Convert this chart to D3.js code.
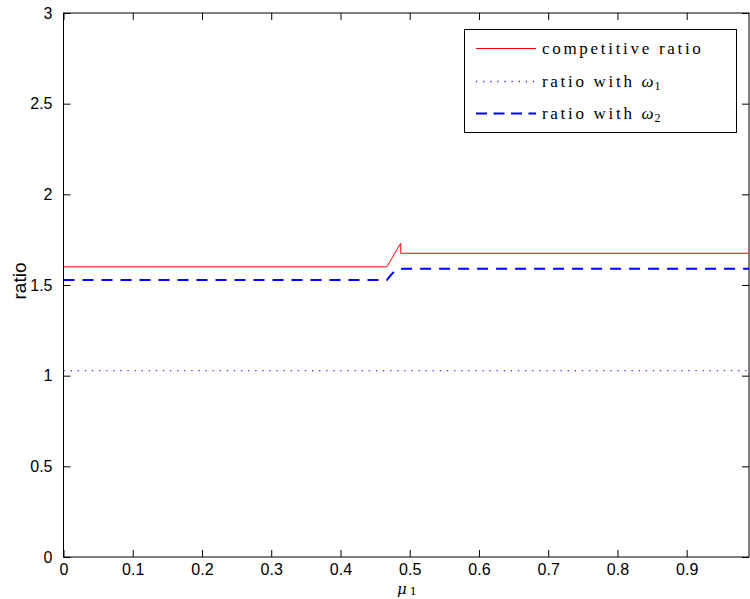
<!DOCTYPE html>
<html>
<head>
<meta charset="utf-8">
<script src="https://cdnjs.cloudflare.com/ajax/libs/d3/7.8.5/d3.min.js"></script>
<style>
  html, body { margin: 0; padding: 0; background: #fff; }
  svg { display: block; }
</style>
</head>
<body>
<svg id="chart" width="750" height="599"></svg>
<script>
// data
const compX = [0, 0.467, 0.487, 0.4871, 0.99];
const compY = [1.6, 1.6, 1.73, 1.675, 1.675];
const w1X = [0, 0.99];
const w1Y = [1.028, 1.028];
const w2X = [0, 0.467, 0.474, 0.478, 0.484, 0.49, 0.99];
const w2Y = [1.528, 1.528, 1.56, 1.575, 1.587, 1.59, 1.59];
const xTicks = [0, 0.1, 0.2, 0.3, 0.4, 0.5, 0.6, 0.7, 0.8, 0.9];
const yTicks = [0, 0.5, 1, 1.5, 2, 2.5, 3];
const legendLabels = ['competitive ratio', 'ratio with ', 'ratio with '];
const legendSubs = ['', '1', '2'];

const svg = d3.select('#chart');
const mLeft = 63.5, mRight = 749, mTop = 13, mBottom = 557;

const x = d3.scaleLinear().domain([0, 0.99]).range([mLeft, mRight]);
const y = d3.scaleLinear().domain([0, 3]).range([mBottom, mTop]);

const tickFont = '"Liberation Sans", Arial, sans-serif';
const tickLen = 7;

// frame
svg.append('rect')
  .attr('x', mLeft).attr('y', mTop)
  .attr('width', mRight - mLeft).attr('height', mBottom - mTop)
  .attr('fill', 'none').attr('stroke', '#000').attr('stroke-width', 1);

// axes (ticks pointing inward, MATLAB style)
const xAxis = svg.append('g')
  .attr('transform', `translate(0,${mBottom})`)
  .call(d3.axisBottom(x).tickValues(xTicks).tickSize(-tickLen).tickPadding(7)
    .tickFormat(d3.format('')));
const xTopAxis = svg.append('g')
  .attr('transform', `translate(0,${mTop})`)
  .call(d3.axisTop(x).tickValues(xTicks).tickSize(-tickLen).tickFormat(''));
const yAxis = svg.append('g')
  .attr('transform', `translate(${mLeft},0)`)
  .call(d3.axisLeft(y).tickValues(yTicks).tickSize(-tickLen).tickPadding(tickLen + 4)
    .tickFormat(d3.format('')));
const yRightAxis = svg.append('g')
  .attr('transform', `translate(${mRight},0)`)
  .call(d3.axisRight(y).tickValues(yTicks).tickSize(-tickLen).tickFormat(''));

[xAxis, xTopAxis, yAxis, yRightAxis].forEach(a => {
  a.select('.domain').remove();
  a.selectAll('.tick line').attr('stroke', '#000');
  a.selectAll('.tick text')
    .attr('fill', '#000')
    .style('font-family', tickFont)
    .style('font-size', '16px');
});

// axis labels
svg.append('text')
  .attr('transform', `translate(26,${(mTop + mBottom) / 2 - 4}) rotate(-90)`)
  .attr('text-anchor', 'middle')
  .style('font-family', tickFont)
  .style('font-size', '19px')
  .text('ratio');

const xl = svg.append('text')
  .attr('x', 397).attr('y', 594)
  .style('font-family', '"DejaVu Serif", serif')
  .style('font-size', '15px');
xl.append('tspan').style('font-style', 'italic').text('μ');
xl.append('tspan').attr('dx', 3).attr('dy', 1).style('font-size', '11px').text('1');

// series
const line = d3.line().x(d => x(d[0])).y(d => y(d[1]));
const series = [
  { xs: compX, ys: compY, color: '#ff0000', width: 1, dash: null },
  { xs: w1X, ys: w1Y, color: '#3333ff', width: 1.3, dash: '1.3,5.8' },
  { xs: w2X, ys: w2Y, color: '#0000ff', width: 2, dash: '11,8' }
];
const plot = svg.append('g');
series.forEach(s => {
  plot.append('path')
    .datum(s.xs.map((v, i) => [v, s.ys[i]]))
    .attr('d', line)
    .attr('fill', 'none')
    .attr('stroke', s.color)
    .attr('stroke-width', s.width)
    .attr('stroke-dasharray', s.dash);
});

// legend
const lg = svg.append('g').attr('class', 'legend');
lg.append('rect')
  .attr('x', 464.5).attr('y', 29.5)
  .attr('width', 272).attr('height', 103)
  .attr('fill', '#fff').attr('stroke', '#000').attr('stroke-width', 1);
const rowY = [48.5, 81.5, 113.5];
const lgDash = [null, '1.3,5.8', '11,6.5'];
series.forEach((s, i) => {
  lg.append('line')
    .attr('x1', 476).attr('x2', 536)
    .attr('y1', rowY[i]).attr('y2', rowY[i])
    .attr('stroke', s.color)
    .attr('stroke-width', s.width)
    .attr('stroke-dasharray', lgDash[i]);
  const t = lg.append('text')
    .attr('x', 542).attr('y', rowY[i] + 5)
    .style('font-family', '"Liberation Serif", "DejaVu Serif", serif')
    .style('font-size', '17px')
    .style('letter-spacing', '2.7px')
    .attr('fill', '#000');
  t.append('tspan').text(legendLabels[i]);
  if (legendSubs[i]) {
    t.append('tspan').style('font-style', 'italic').style('letter-spacing', '0px').text('ω');
    t.append('tspan').attr('dy', 3).attr('dx', 1).style('font-size', '12px').style('letter-spacing', '0px')
      .text(legendSubs[i]);
  }
});
</script>
</body>
</html>
